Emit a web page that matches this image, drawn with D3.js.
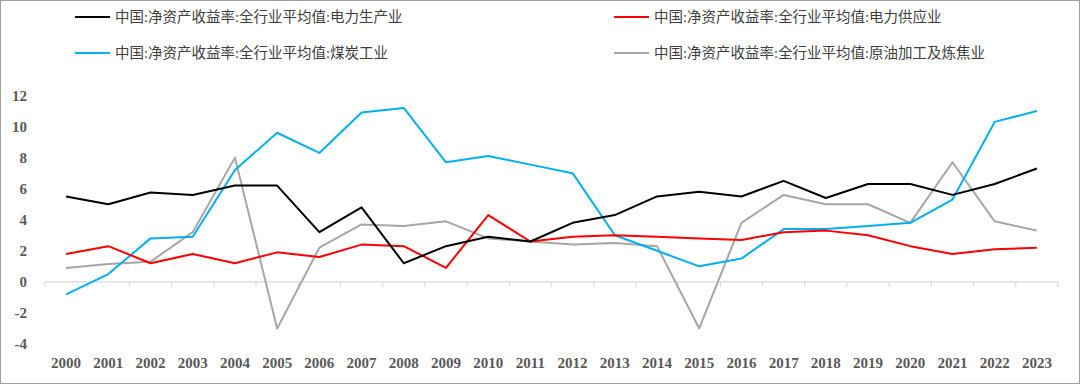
<!DOCTYPE html>
<html>
<head>
<meta charset="utf-8">
<script src="https://cdn.jsdelivr.net/npm/d3@7"></script>
<style>
  body { margin: 0; background: #fff; }
  svg { display: block; }
</style>
</head>
<body>
<script>
var years = ["2000","2001","2002","2003","2004","2005","2006","2007","2008","2009","2010","2011",
             "2012","2013","2014","2015","2016","2017","2018","2019","2020","2021","2022","2023"];

var powerGen = [5.5, 5.0, 5.75, 5.6, 6.2, 6.2, 3.2, 4.8, 1.2, 2.3, 2.9, 2.6,
                3.8, 4.3, 5.5, 5.8, 5.5, 6.5, 5.4, 6.3, 6.3, 5.6, 6.3, 7.3];
var powerSupply = [1.8, 2.3, 1.2, 1.8, 1.2, 1.9, 1.6, 2.4, 2.3, 0.9, 4.3, 2.6,
                   2.9, 3.0, 2.9, 2.8, 2.7, 3.2, 3.3, 3.0, 2.3, 1.8, 2.1, 2.2];
var coal = [-0.8, 0.5, 2.8, 2.9, 7.2, 9.6, 8.3, 10.9, 11.2, 7.7, 8.1, 7.55,
            7.0, 3.0, 2.0, 1.0, 1.5, 3.4, 3.4, 3.6, 3.8, 5.3, 10.3, 11.0];
var oil = [0.9, 1.15, 1.3, 3.2, 8.0, -3.0, 2.2, 3.7, 3.6, 3.9, 2.8, 2.6,
           2.4, 2.5, 2.3, -3.0, 3.8, 5.6, 5.0, 5.0, 3.8, 7.7, 3.9, 3.3];

var yTicks = [-4, -2, 0, 2, 4, 6, 8, 10, 12];

var series = [
  {name: "中国:净资产收益率:全行业平均值:电力生产业", values: powerGen, color: "#000000"},
  {name: "中国:净资产收益率:全行业平均值:电力供应业", values: powerSupply, color: "#ff0000"},
  {name: "中国:净资产收益率:全行业平均值:煤炭工业", values: coal, color: "#00b0f0"},
  {name: "中国:净资产收益率:全行业平均值:原油加工及炼焦业", values: oil, color: "#a6a6a6"}
];

var W = 1080, H = 384;
var svg = d3.select("body").append("svg").attr("width", W).attr("height", H);

// outer frame
svg.append("rect")
  .attr("x", 0.5).attr("y", 0.5).attr("width", W - 1).attr("height", H - 1)
  .attr("fill", "#fff").attr("stroke", "#a0a0a0");

var x = d3.scaleBand().domain(years).range([45, 1058]);
var y = d3.scaleLinear().domain([-4, 12]).range([344, 95.5]);

// zero line with ticks
svg.append("line")
  .attr("x1", 45).attr("x2", 1058).attr("y1", y(0)).attr("y2", y(0))
  .attr("stroke", "#d9d9d9").attr("stroke-width", 1.2);
svg.selectAll(".tk").data(years.concat(["end"])).enter().append("line")
  .attr("x1", function(d, i) { return 45 + i * x.bandwidth(); })
  .attr("x2", function(d, i) { return 45 + i * x.bandwidth(); })
  .attr("y1", y(0)).attr("y2", y(0) + 5)
  .attr("stroke", "#d9d9d9").attr("stroke-width", 1.2);

// y labels
svg.selectAll(".yl").data(yTicks).enter().append("text")
  .attr("x", 27).attr("y", function(d) { return y(d); })
  .attr("dy", "0.35em").attr("text-anchor", "end")
  .attr("font-family", "Liberation Serif, Times New Roman, serif")
  .attr("font-weight", "bold").attr("font-size", 15).attr("fill", "#595959")
  .text(function(d) { return d; });

// x labels
svg.selectAll(".xl").data(years).enter().append("text")
  .attr("x", function(d) { return x(d) + x.bandwidth() / 2; })
  .attr("y", 368)
  .attr("text-anchor", "middle")
  .attr("font-family", "Liberation Serif, Times New Roman, serif")
  .attr("font-weight", "bold").attr("font-size", 15).attr("fill", "#595959")
  .text(function(d) { return d; });

var line = d3.line()
  .x(function(d, i) { return x(years[i]) + x.bandwidth() / 2; })
  .y(function(d) { return y(d); });

// draw order: gray, blue, red, black on top
[3, 2, 1, 0].forEach(function(k) {
  svg.append("path")
    .datum(series[k].values)
    .attr("d", line)
    .attr("fill", "none")
    .attr("stroke", series[k].color)
    .attr("stroke-width", 2)
    .attr("stroke-linejoin", "round");
});

// legend
var legPos = [[75, 17], [614, 17], [75, 53], [614, 53]];
series.forEach(function(s, i) {
  var g = svg.append("g").attr("transform", "translate(" + legPos[i][0] + "," + legPos[i][1] + ")");
  g.append("line").attr("x1", 0).attr("x2", 35).attr("y1", 0).attr("y2", 0)
    .attr("stroke", s.color).attr("stroke-width", 2);
  g.append("text").attr("x", 40).attr("y", 0).attr("dy", "0.36em")
    .attr("font-family", "Liberation Serif, Noto Sans CJK SC, serif")
    .attr("font-size", 14.5).attr("fill", "#404040")
    .text(s.name);
});
</script>
</body>
</html>
